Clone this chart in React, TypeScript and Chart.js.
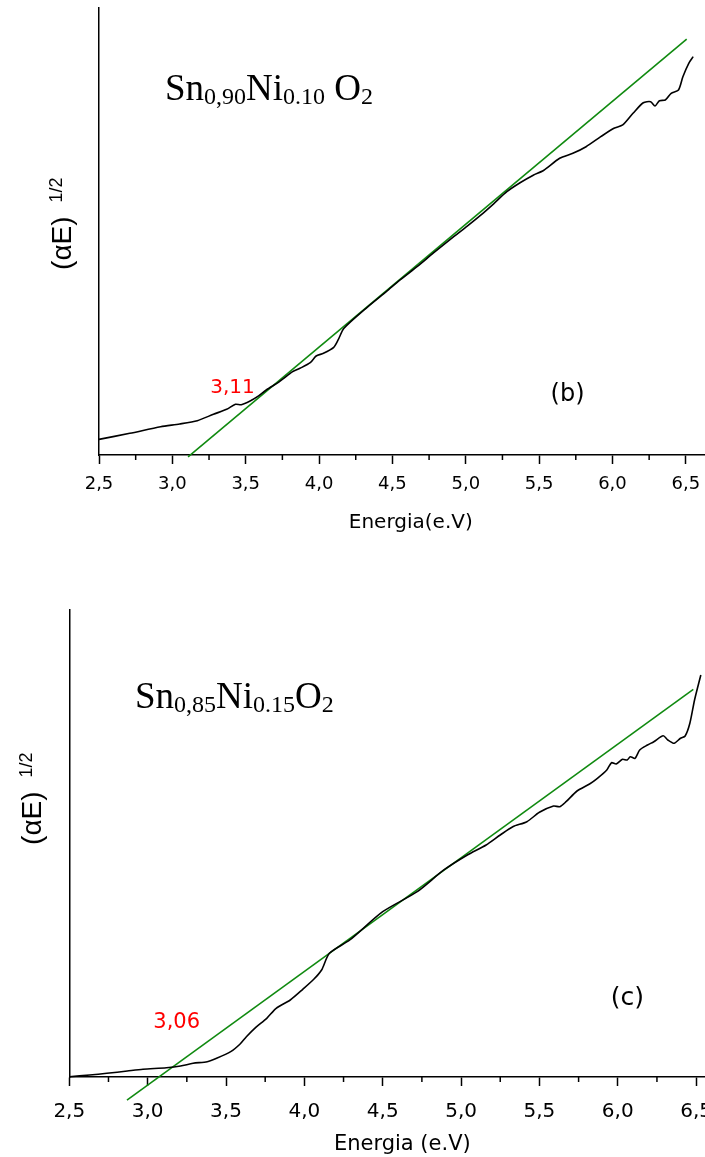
import React, { useEffect, useRef } from 'react';
import { Chart, registerables } from 'chart.js';

Chart.register(...registerables);

// ---------------- Panel (b): Sn0,90Ni0.10O2 ----------------
const energyB = [2.50, 2.71, 2.92, 3.05, 3.17, 3.28, 3.37, 3.43, 3.47, 3.53, 3.58, 3.64, 3.73, 3.82, 3.87, 3.94, 3.98, 4.03, 4.10, 4.13, 4.17, 4.33, 4.46, 4.55, 4.67, 4.78, 4.92, 5.01, 5.10, 5.19, 5.28, 5.37, 5.46, 5.53, 5.64, 5.73, 5.82, 5.92, 6.01, 6.07, 6.14, 6.21, 6.26, 6.29, 6.32, 6.36, 6.40, 6.45, 6.48, 6.52, 6.55];
const absorptionB = [3.5, 4.85, 6.33, 6.94, 7.68, 9.11, 10.22, 11.34, 11.25, 12.08, 13.04, 14.54, 16.40, 18.64, 19.40, 20.65, 22.15, 22.75, 24.09, 25.73, 28.34, 33.10, 36.60, 39.10, 42.20, 45.20, 48.90, 51.20, 53.60, 56.20, 58.90, 60.90, 62.60, 63.65, 66.38, 67.49, 68.97, 71.21, 73.09, 73.83, 76.44, 78.81, 79.04, 78.08, 79.26, 79.42, 80.92, 81.66, 84.63, 87.63, 89.11];
const fitEnergyB = [3.107, 6.506];
const fitAbsorptionB = [-0.4, 93.06];
const gapLabelB = '3,11';
const gapPosB = [3.41, 15.1];
const tagB = '(b)';
const tagPosB = [5.694, 13.5];
const formulaB: [string, boolean][] = [['Sn', false], ['0,90', true], ['Ni', false], ['0.10', true], [' O', false], ['2', true]];
const formulaPosB = [2.95, 79.5];
const xTitleB = 'Energia(e.V)';

// ---------------- Panel (c): Sn0,85Ni0.15O2 ----------------
const energyC = [2.50, 2.63, 2.74, 2.87, 2.97, 3.12, 3.21, 3.29, 3.38, 3.44, 3.53, 3.59, 3.63, 3.69, 3.76, 3.82, 3.91, 3.99, 4.06, 4.11, 4.16, 4.29, 4.50, 4.72, 4.89, 5.04, 5.16, 5.25, 5.33, 5.42, 5.50, 5.59, 5.63, 5.67, 5.74, 5.82, 5.87, 5.93, 5.96, 5.99, 6.03, 6.06, 6.08, 6.11, 6.14, 6.19, 6.23, 6.29, 6.32, 6.36, 6.40, 6.43, 6.46, 6.49, 6.53];
const absorptionC = [0.06, 0.43, 0.79, 1.28, 1.65, 1.99, 2.36, 2.93, 3.28, 4.00, 5.42, 7.07, 8.63, 10.64, 12.57, 14.71, 16.49, 18.78, 20.92, 22.91, 26.49, 29.34, 35.40, 39.68, 44.33, 47.54, 49.68, 51.82, 53.60, 54.67, 56.68, 58.03, 57.88, 58.95, 61.24, 62.74, 63.96, 65.74, 67.30, 67.02, 68.03, 67.88, 68.59, 68.24, 70.02, 71.09, 71.80, 73.08, 72.16, 71.46, 72.53, 73.02, 75.74, 80.73, 86.08];
const fitEnergyC = [2.868, 6.482];
const fitAbsorptionC = [-4.93, 83.02];
const gapLabelC = '3,06';
const gapPosC = [3.185, 11.67];
const tagC = '(c)';
const tagPosC = [6.062, 16.85];
const formulaC: [string, boolean][] = [['Sn', false], ['0,85', true], ['Ni', false], ['0.15', true], ['O', false], ['2', true]];
const formulaPosC = [2.919, 78.95];
const xTitleC = 'Energia (e.V)';

const yTitleMain = '(αE)';
const yTitleSup = '1/2';

const X_MIN = 2.5;
const X_MAX = 6.75;

const isMajor = (v: number) => Math.abs(v * 2 - Math.round(v * 2)) < 1e-6;
const fmt = (v: number) => Number(v).toFixed(1).replace('.', ',');

interface PanelData {
  energy: number[]; absorb: number[]; fitE: number[]; fitA: number[];
  gap: string; gapAt: number[]; tag: string; tagAt: number[];
  formula: [string, boolean][]; formulaAt: number[]; xTitle: string; yTitleAt: number;
}
interface PanelStyle {
  width: number; height: number; left: number; top: number; right: number;
  xAxisHeight: number; tickPad: number; tickSize: number; titlePad: number; titleSize: number;
  gapSize: number; tagSize: number;
}

function overlayPlugin(d: PanelData, s: PanelStyle) {
  return {
    id: 'overlay',
    afterDraw(chart: any) {
      const { ctx, chartArea } = chart;
      const x = chart.scales.x;
      const y = chart.scales.y;
      ctx.save();
      // minor ticks
      ctx.strokeStyle = '#000';
      ctx.lineWidth = 1.5;
      for (const t of x.ticks) {
        if (isMajor(t.value)) continue;
        const px = x.getPixelForValue(t.value);
        ctx.beginPath();
        ctx.moveTo(px, chartArea.bottom);
        ctx.lineTo(px, chartArea.bottom + 5);
        ctx.stroke();
      }
      // gap value
      ctx.textAlign = 'center';
      ctx.textBaseline = 'middle';
      ctx.fillStyle = '#ff0000';
      ctx.font = `${s.gapSize}px "DejaVu Sans"`;
      ctx.fillText(d.gap, x.getPixelForValue(d.gapAt[0]), y.getPixelForValue(d.gapAt[1]));
      // tag
      ctx.fillStyle = '#000';
      ctx.font = `${s.tagSize}px "DejaVu Sans"`;
      ctx.fillText(d.tag, x.getPixelForValue(d.tagAt[0]), y.getPixelForValue(d.tagAt[1]));
      // formula
      ctx.textAlign = 'left';
      ctx.textBaseline = 'alphabetic';
      let fx = x.getPixelForValue(d.formulaAt[0]);
      const fy = y.getPixelForValue(d.formulaAt[1]);
      for (const [t, sub] of d.formula) {
        ctx.font = `${sub ? 24 : 37}px "Liberation Serif"`;
        ctx.fillText(t, fx, fy + (sub ? 4 : 0));
        fx += ctx.measureText(t).width;
      }
      // y title
      ctx.translate(chartArea.left - 28, y.getPixelForValue(d.yTitleAt));
      ctx.rotate(-Math.PI / 2);
      ctx.font = '28px "Liberation Sans"';
      ctx.fillText(yTitleMain, 0, 0);
      const w = ctx.measureText(yTitleMain).width;
      ctx.font = '18px "Liberation Sans"';
      ctx.fillText(yTitleSup, w + 14, -9);
      ctx.restore();
    },
  };
}

function buildConfig(d: PanelData, s: PanelStyle): any {
  return {
    type: 'line',
    data: {
      datasets: [
        {
          data: d.energy.map((e, i) => ({ x: e, y: d.absorb[i] })),
          borderColor: '#000',
          borderWidth: 1.6,
          pointRadius: 0,
          tension: 0.25,
          clip: false,
        },
        {
          data: d.fitE.map((e, i) => ({ x: e, y: d.fitA[i] })),
          borderColor: '#108a10',
          borderWidth: 1.6,
          pointRadius: 0,
          clip: false,
        },
      ],
    },
    options: {
      responsive: false,
      animation: false,
      events: [],
      layout: { padding: { left: s.left, top: s.top, right: s.right, bottom: 0 } },
      plugins: { legend: { display: false }, tooltip: { enabled: false } },
      scales: {
        x: {
          type: 'linear',
          min: X_MIN,
          max: X_MAX,
          afterFit: (sc: any) => { sc.height = s.xAxisHeight; },
          border: { display: true, color: '#000', width: 1.5 },
          grid: {
            display: true,
            drawOnChartArea: false,
            drawTicks: true,
            tickLength: 9,
            tickWidth: 1.5,
            tickColor: (c: any) => (c.tick && isMajor(c.tick.value) ? '#000' : 'rgba(0,0,0,0)'),
          },
          ticks: {
            stepSize: 0.25,
            autoSkip: false,
            maxRotation: 0,
            padding: s.tickPad,
            color: '#000',
            font: { family: 'DejaVu Sans', size: s.tickSize },
            callback: (v: any) => (isMajor(Number(v)) ? fmt(Number(v)) : ''),
          },
          title: {
            display: true,
            text: d.xTitle,
            color: '#000',
            font: { family: 'DejaVu Sans', size: s.titleSize },
            padding: { top: 0, bottom: s.titlePad },
          },
        },
        y: {
          type: 'linear',
          min: 0,
          max: 100,
          afterFit: (sc: any) => { sc.width = 0; },
          border: { display: true, color: '#000', width: 1.5 },
          grid: { display: false },
          ticks: { display: false },
        },
      },
    },
    plugins: [overlayPlugin(d, s)],
  };
}

const panelB: PanelData = {
  energy: energyB, absorb: absorptionB, fitE: fitEnergyB, fitA: fitAbsorptionB,
  gap: gapLabelB, gapAt: gapPosB, tag: tagB, tagAt: tagPosB,
  formula: formulaB, formulaAt: formulaPosB, xTitle: xTitleB, yTitleAt: 41.4,
};
const panelC: PanelData = {
  energy: energyC, absorb: absorptionC, fitE: fitEnergyC, fitA: fitAbsorptionC,
  gap: gapLabelC, gapAt: gapPosC, tag: tagC, tagAt: tagPosC,
  formula: formulaC, formulaAt: formulaPosC, xTitle: xTitleC, yTitleAt: 49.7,
};

const styleB: PanelStyle = {
  width: 760, height: 545, left: 99, top: 8, right: 37.5,
  xAxisHeight: 90, tickPad: 10, tickSize: 18, titlePad: 10, titleSize: 20, gapSize: 20, tagSize: 24,
};
const styleC: PanelStyle = {
  width: 760, height: 577, left: 69.3, top: 30, right: 24.7,
  xAxisHeight: 80, tickPad: 13.5, tickSize: 20, titlePad: 0, titleSize: 21, gapSize: 21, tagSize: 25,
};

function Panel({ d, s, top }: { d: PanelData; s: PanelStyle; top: number }) {
  const ref = useRef<HTMLCanvasElement>(null);
  useEffect(() => {
    if (!ref.current) return;
    const chart = new Chart(ref.current, buildConfig(d, s));
    return () => chart.destroy();
  }, []);
  return (
    <canvas
      ref={ref}
      width={s.width}
      height={s.height}
      style={{ position: 'absolute', left: 0, top, width: s.width, height: s.height }}
    />
  );
}

export default function App() {
  return (
    <div style={{ position: 'absolute', left: 0, top: 0, width: 705, height: 1157, overflow: 'hidden', background: '#fff' }}>
      <Panel d={panelB} s={styleB} top={0} />
      <Panel d={panelC} s={styleC} top={580} />
    </div>
  );
}
